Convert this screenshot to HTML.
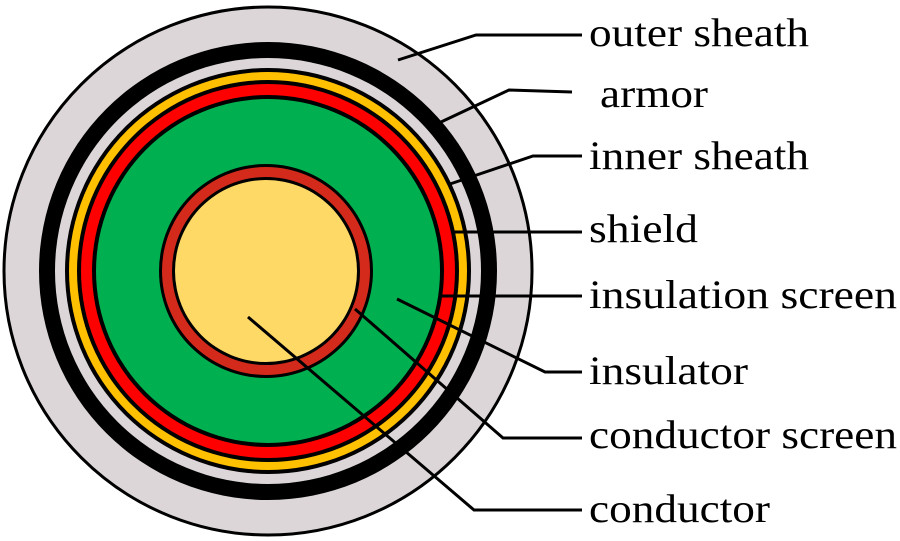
<!DOCTYPE html>
<html><head><style>html,body{margin:0;padding:0;background:#fff;}svg{display:block}</style></head>
<body>
<svg width="900" height="541" viewBox="0 0 900 541" xmlns="http://www.w3.org/2000/svg">
<g>
<circle cx="268" cy="271" r="264" fill="#dcd6d8" stroke="#000" stroke-width="3"/>
<circle cx="268" cy="271" r="229" fill="#000"/>
<circle cx="268" cy="271" r="213" fill="#dcd6d8"/>
<circle cx="268" cy="271" r="203" fill="#000"/>
<circle cx="268" cy="271" r="199" fill="#ffc000"/>
<circle cx="268" cy="271" r="191" fill="#000"/>
<circle cx="268" cy="271" r="187" fill="#ff0000"/>
<circle cx="268" cy="271" r="176" fill="#000"/>
<circle cx="268" cy="271" r="172" fill="#00b050"/>
<circle cx="266" cy="271" r="107" fill="#000"/>
<circle cx="266" cy="271" r="104" fill="#d42a1c"/>
<circle cx="266" cy="271" r="94" fill="#000"/>
<circle cx="266" cy="271" r="91" fill="#ffd966"/>
</g>
<g stroke="#000" stroke-width="3" fill="none">
<polyline points="398,60 476,35 582,35"/>
<polyline points="441,122 509,90 572,92"/>
<polyline points="450,184 533,156 582,156"/>
<polyline points="452,232 582,232"/>
<polyline points="441,296 582,296"/>
<polyline points="397,299 545,372 582,372"/>
<polyline points="355,309 503,438 582,438"/>
<polyline points="248,317 474,510 582,510"/>
</g>
<g font-family="'Liberation Serif',serif" font-size="40" fill="#000">
<text x="589" y="46" textLength="220" lengthAdjust="spacingAndGlyphs">outer sheath</text>
<text x="600" y="107" textLength="108" lengthAdjust="spacingAndGlyphs">armor</text>
<text x="589" y="169" textLength="220" lengthAdjust="spacingAndGlyphs">inner sheath</text>
<text x="589" y="242" textLength="109" lengthAdjust="spacingAndGlyphs">shield</text>
<text x="589" y="308" textLength="308" lengthAdjust="spacingAndGlyphs">insulation screen</text>
<text x="589" y="384" textLength="159" lengthAdjust="spacingAndGlyphs">insulator</text>
<text x="589" y="448" textLength="308" lengthAdjust="spacingAndGlyphs">conductor screen</text>
<text x="589" y="522" textLength="181" lengthAdjust="spacingAndGlyphs">conductor</text>
</g>
</svg>
</body></html>
